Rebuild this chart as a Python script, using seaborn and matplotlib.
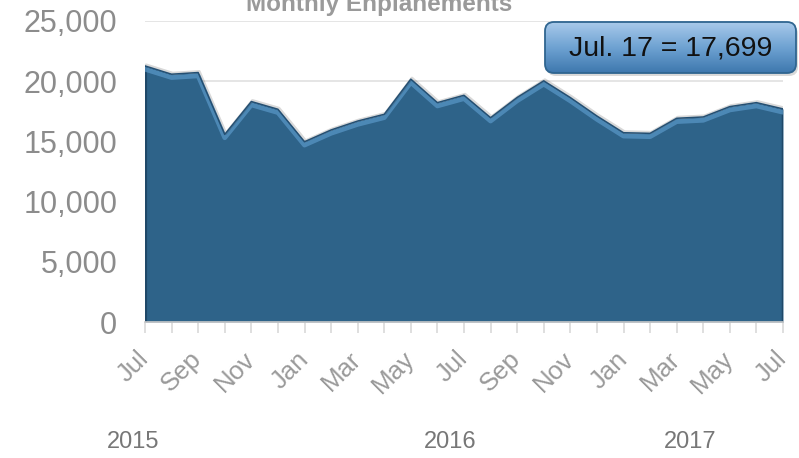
import matplotlib
matplotlib.use("Agg")
import matplotlib.pyplot as plt
import matplotlib.patheffects as pe
from matplotlib.patches import FancyBboxPatch
from matplotlib.transforms import IdentityTransform
import seaborn as sns
import numpy as np
import pandas as pd

months = ["Jul", "Aug", "Sep", "Oct", "Nov", "Dec",
          "Jan", "Feb", "Mar", "Apr", "May", "Jun",
          "Jul", "Aug", "Sep", "Oct", "Nov", "Dec",
          "Jan", "Feb", "Mar", "Apr", "May", "Jun", "Jul"]
enplanements = [21270, 20580, 20720, 15580, 18310, 17670,
                14970, 15950, 16690, 17250, 20170, 18220,
                18830, 16970, 18650, 20030, 18640, 17110,
                15720, 15670, 16920, 17030, 17890, 18220, 17699]
years = ["2015", "2016", "2017"]
yticks = [0, 5000, 10000, 15000, 20000, 25000]
title = "Monthly Enplanements"
callout = "Jul. 17 = 17,699"

df = pd.DataFrame({"idx": np.arange(len(months)), "value": enplanements})

sns.set_theme(style="white")
plt.rcParams["font.family"] = ["Liberation Sans", "DejaVu Sans"]

W, H = 799, 458
fig = plt.figure(figsize=(W/100, H/100), dpi=100)
ax = fig.add_axes([145/W, (H-322)/H, (783-145)/W, (322-21)/H])

fill_c = "#2e6389"
ax.fill_between(df["idx"], df["value"], 0, color=fill_c, zorder=2, lw=0)
n = len(enplanements)
ax.vlines([0], 0, [enplanements[0]], color="#1f4868", lw=3, zorder=2.5)
ax.vlines([n - 1], 0, [enplanements[-1]], color="#1f4868", lw=2.5, zorder=2.5)
sns.lineplot(data=df, x="idx", y="value", ax=ax, color="#244f72", lw=1.1,
             zorder=4, legend=False,
             path_effects=[pe.SimpleLineShadow(offset=(0, -2.4), shadow_color="#5a98c9",
                                               alpha=0.7, linewidth=3.4),
                           pe.SimpleLineShadow(offset=(0.8, 0.8), shadow_color="#000000",
                                               alpha=0.15, linewidth=2),
                           pe.Normal()])

ax.set_xlim(0, n - 1)
ax.set_ylim(0, 25000)
ax.set_yticks(yticks)
ax.set_yticklabels([f"{v:,}" for v in yticks], fontsize=22, color="#8c8c8c")
ax.yaxis.grid(True, color="#e0e0e0", lw=1.2, zorder=0)
ax.set_axisbelow(True)

ax.set_xticks(df["idx"])
ax.set_xticklabels([m if i % 2 == 0 else "" for i, m in enumerate(months)],
                   rotation=45, ha="right", va="center", rotation_mode="anchor",
                   fontsize=18.5, color="#9a9a9a")
ax.tick_params(axis="x", which="both", bottom=True, length=8, width=1.2,
               color="#d9d9d9", pad=16)
ax.tick_params(axis="y", length=0, pad=20)
for s in ["top", "right", "left"]:
    ax.spines[s].set_visible(False)
ax.spines["bottom"].set_color("#c8c8c8")
ax.spines["bottom"].set_linewidth(1.2)
ax.spines["bottom"].set_zorder(5)
ax.set_xlabel("")
ax.set_ylabel("")

fig.text(379/W, 1 - 5/H, title, ha="center", va="center",
         fontsize=17.5, fontweight="bold", color="#9a9a9a")

# callout box with gradient
bx0, by_top, bw, bh = 545, 22, 251, 51
by0 = H - by_top - bh
shadow = FancyBboxPatch((bx0 + 2, by0 - 3), bw, bh, boxstyle="round,pad=0,rounding_size=9",
                        transform=IdentityTransform(), fc="#000000", ec="none",
                        alpha=0.15, zorder=5)
fig.patches.append(shadow)
gax = fig.add_axes([bx0/W, by0/H, bw/W, bh/H], zorder=6)
grad = np.linspace(0, 1, 100).reshape(-1, 1)
im = gax.imshow(grad, aspect="auto", cmap=matplotlib.colors.LinearSegmentedColormap.from_list(
    "g", ["#a8c9ea", "#6ea2d2", "#3e78ae"]), extent=(0, 1, 1, 0))
clip = FancyBboxPatch((bx0, by0), bw, bh, boxstyle="round,pad=0,rounding_size=9",
                      transform=IdentityTransform())
im.set_clip_path(clip)
gax.axis("off")
outline = FancyBboxPatch((bx0, by0), bw, bh, boxstyle="round,pad=0,rounding_size=9",
                         transform=IdentityTransform(), fc="none", ec="#2f6590",
                         lw=1.3, zorder=7)
fig.patches.append(outline)
fig.text((bx0 + bw/2)/W, 1 - (by_top + bh/2 + 1)/H, callout, ha="center", va="center",
         fontsize=20.5, color="#111111", zorder=8)

year_x = [133, 450, 690]
for yx, yl in zip(year_x, years):
    fig.text(yx/W, 1 - 442/H, yl, ha="center", va="center",
             fontsize=17, color="#777777",
             family=["Liberation Sans Narrow", "Liberation Sans", "DejaVu Sans"])

fig.savefig("out.png", dpi=100)
